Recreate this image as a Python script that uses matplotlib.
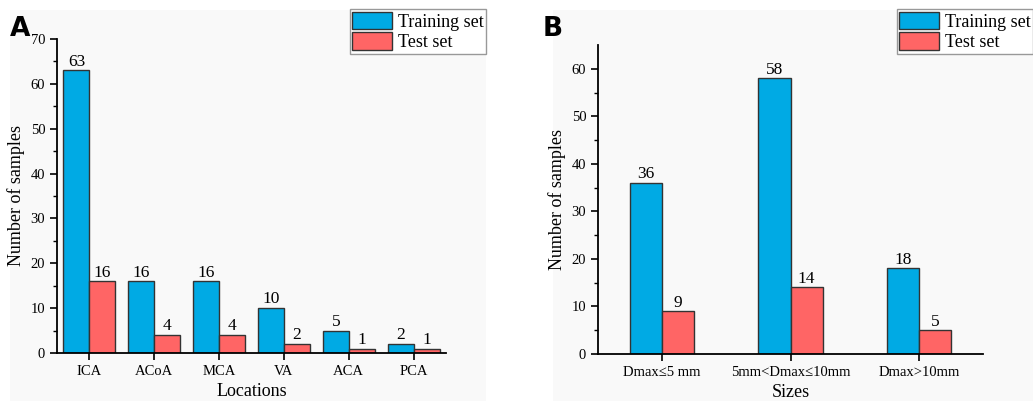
import matplotlib.pyplot as plt
from matplotlib.patches import Rectangle, Patch
import numpy as np

plt.rcParams['font.family'] = ['Liberation Serif', 'DejaVu Serif']

# panel A data
locations = ["ICA", "ACoA", "MCA", "VA", "ACA", "PCA"]
train_loc = [63, 16, 16, 10, 5, 2]
test_loc = [16, 4, 4, 2, 1, 1]

# panel B data
sizes = ["Dmax≤5 mm", "5mm<Dmax≤10mm", "Dmax>10mm"]
train_size = [36, 58, 18]
test_size = [9, 14, 5]

blue = "#00AAE4"
red = "#FF6565"
edge = "#333333"

W, H = 1033, 401
fig = plt.figure(figsize=(W / 100, H / 100), dpi=100)

def px(x0, y0, x1, y1):
    return [x0 / W, 1 - y1 / H, (x1 - x0) / W, (y1 - y0) / H]

# light panel backgrounds
for x0, x1 in [(10, 486), (553, 1033)]:
    fig.patches.append(Rectangle((x0 / W, 0), (x1 - x0) / W, 1 - 10 / H,
                                 transform=fig.transFigure, facecolor="#f9f9f9",
                                 edgecolor="none", zorder=-10))

def draw(ax, cats, tr, te, width, ymax, xlabel):
    x = np.arange(len(cats))
    b1 = ax.bar(x - width / 2, tr, width, color=blue, edgecolor=edge, linewidth=1)
    b2 = ax.bar(x + width / 2, te, width, color=red, edgecolor=edge, linewidth=1)
    for bars, vals in [(b1, tr), (b2, te)]:
        for b, v in zip(bars, vals):
            ax.text(b.get_x() + b.get_width() / 2, v + 0.15, str(v),
                    ha="center", va="bottom", fontsize=12.5)
    ax.set_xlim(-0.5, len(cats) - 0.5)
    ax.set_ylim(0, ymax)
    ax.set_xticks(x)
    ax.set_xticklabels(cats, fontsize=10.5)
    ax.set_yticks(np.arange(0, ymax + 1, 10))
    ax.set_yticks(np.arange(5, ymax, 10), minor=True)
    ax.tick_params(axis="y", labelsize=10.5)
    ax.tick_params(which="major", direction="out", length=5, width=1.2)
    ax.tick_params(which="minor", direction="out", length=3, width=1)
    ax.spines["top"].set_visible(False)
    ax.spines["right"].set_visible(False)
    for s in ["left", "bottom"]:
        ax.spines[s].set_linewidth(1.3)
    ax.set_facecolor("none")
    ax.set_xlabel(xlabel, fontsize=13, labelpad=4)
    ax.set_ylabel("Number of samples", fontsize=13, labelpad=4)

axA = fig.add_axes(px(57, 39, 446, 353))
draw(axA, locations, train_loc, test_loc, 0.4, 70, "Locations")

axB = fig.add_axes(px(598, 45, 983, 354))
draw(axB, sizes, train_size, test_size, 0.25, 65, "Sizes")

handles = [Patch(facecolor=blue, edgecolor=edge), Patch(facecolor=red, edgecolor=edge)]
for xr in [486, 1033]:
    fig.legend(handles, ["Training set", "Test set"], loc="upper right",
               bbox_to_anchor=(xr / W, 1 - 9 / H), fontsize=13, frameon=True,
               fancybox=False, edgecolor="#999999", framealpha=1, facecolor="white",
               handlelength=2.2, handleheight=1.1, labelspacing=0.1,
               handletextpad=0.3, borderpad=0.15, borderaxespad=0)

fig.text(10 / W, 1 - 36 / H, "A", fontsize=19, fontweight="bold", family="DejaVu Sans")
fig.text(543 / W, 1 - 36 / H, "B", fontsize=19, fontweight="bold", family="DejaVu Sans")

fig.savefig("out.png", dpi=100)
